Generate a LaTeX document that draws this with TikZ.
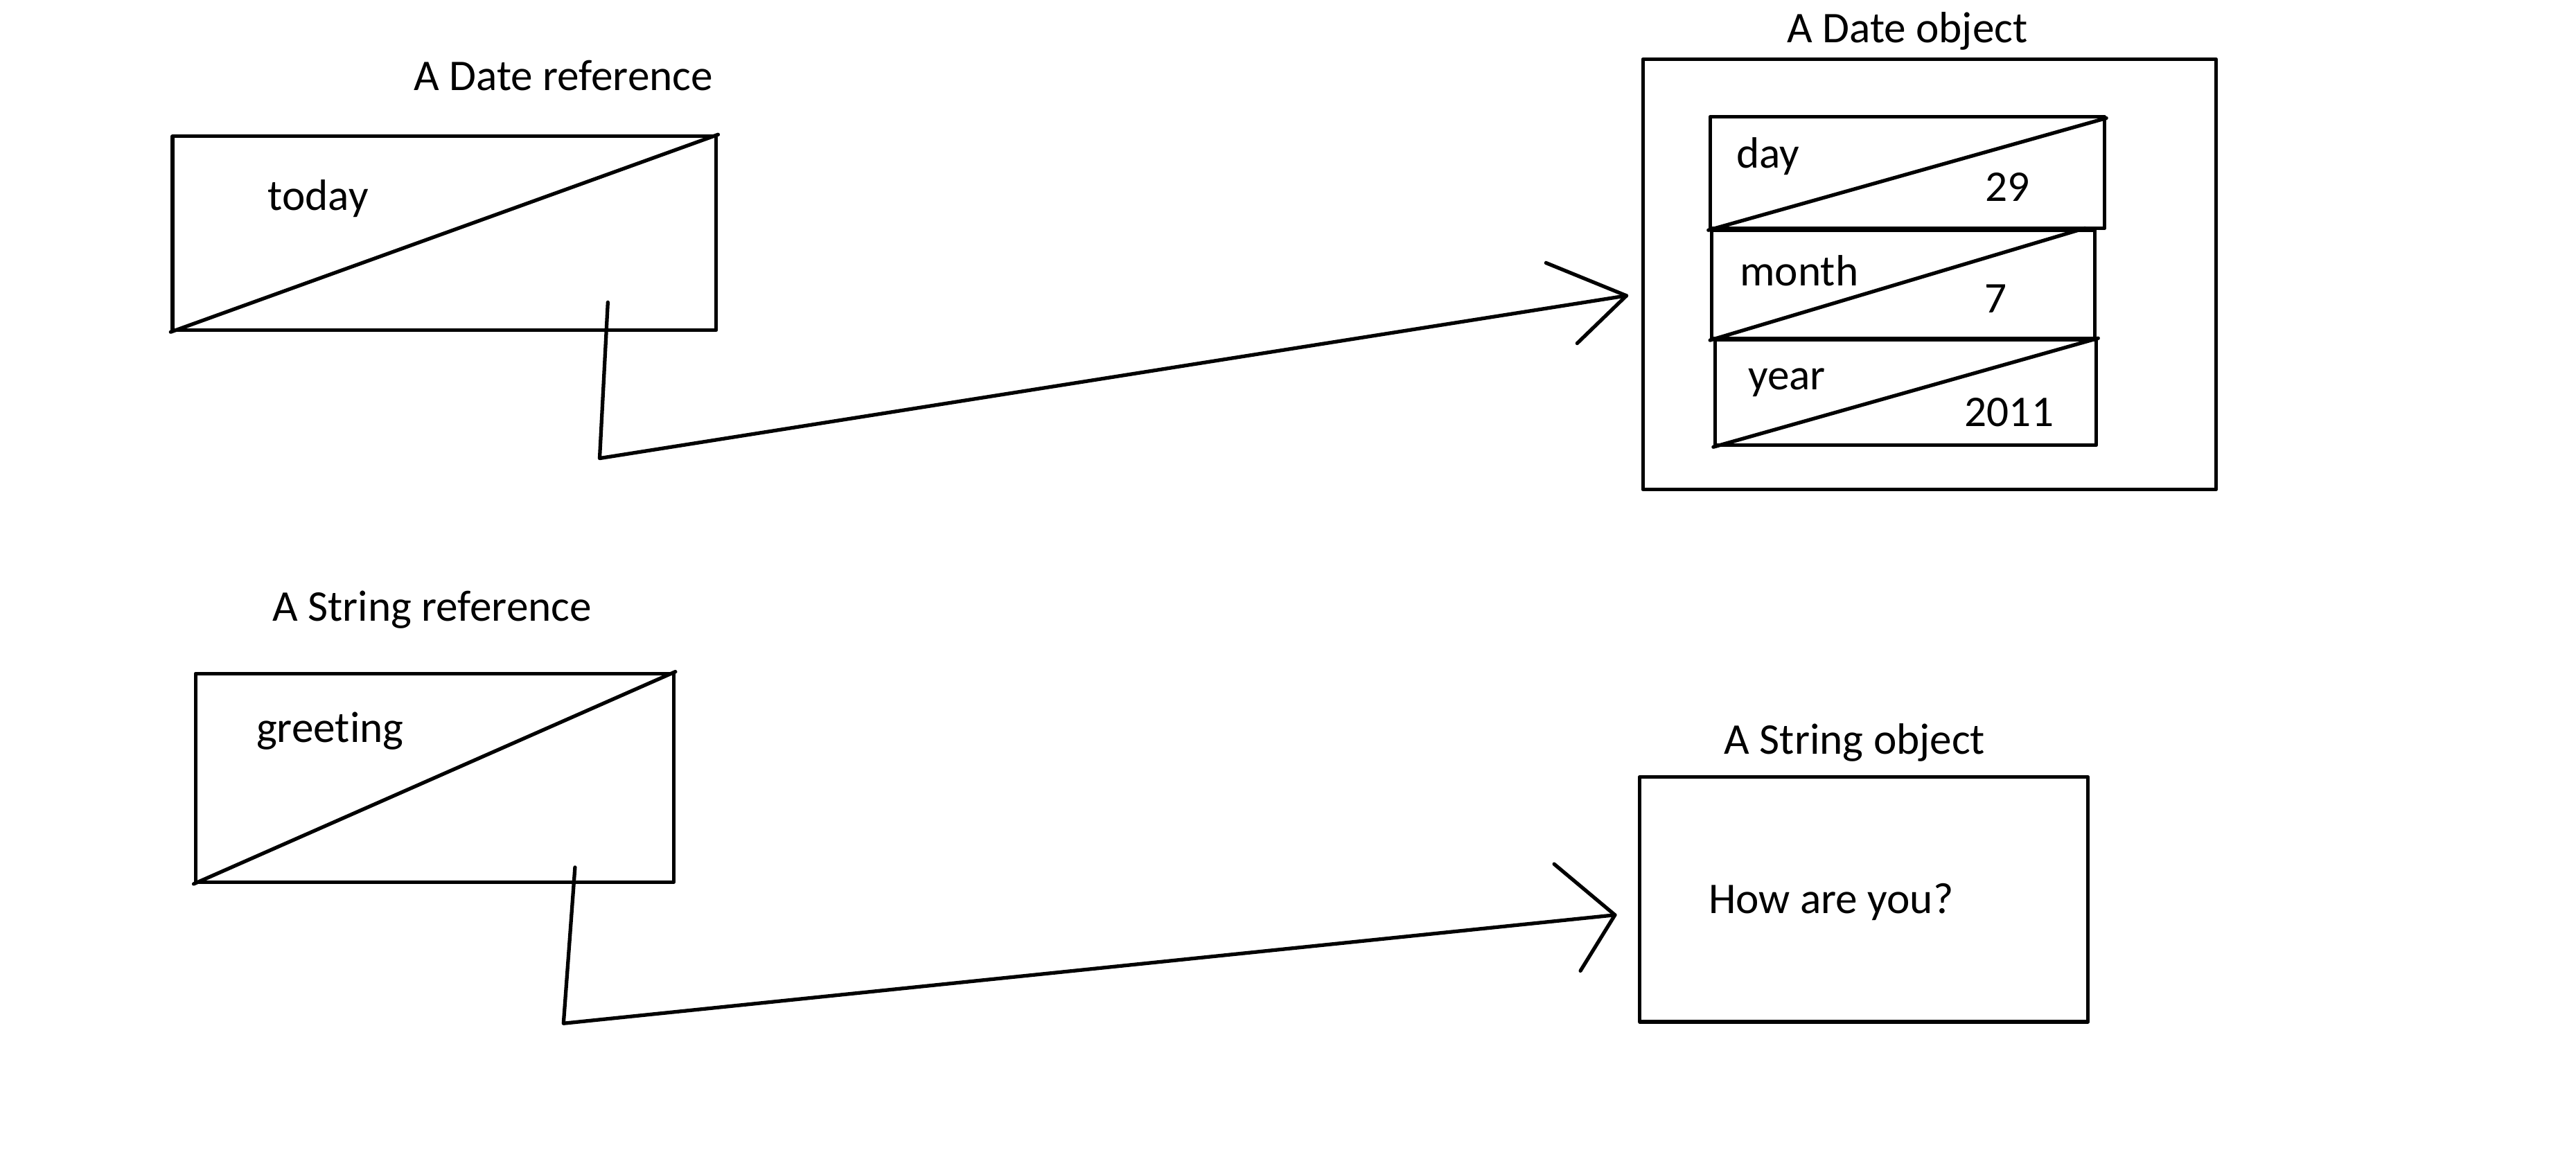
\documentclass[tikz,border=0pt]{standalone}
\usepackage{fontspec}
\setmainfont{Carlito}[Ligatures=NoCommon]
\usetikzlibrary{fit,calc}
\begin{document}
\begin{tikzpicture}[x=0.02371cm,y=-0.02371cm,line width=1.5pt,line cap=round,line join=round,
  txt/.style={font=\fontsize{18}{21}\selectfont,inner sep=0pt},
  boxst/.style={draw,inner sep=0pt}]
\useasboundingbox (0,0) rectangle (1568,711);
% ---- Date reference
\node[txt] (dreft) at (343,46) {A Date reference};
\coordinate (tdA) at (105,83); \coordinate (tdB) at (436,201);
\node[boxst,fit=(tdA)(tdB)] (today) {};
\draw (today.south west) -- (today.north east);
\node[txt,anchor=west] (todayl) at (162,121) {today};
% ---- Date object
\node[txt] (dobjt) at (1161,19) {A Date object};
\coordinate (doA) at (1000,36); \coordinate (doB) at (1349,298);
\node[boxst,fit=(doA)(doB)] (dobj) {};
\coordinate (dyA) at (1041,71); \coordinate (dyB) at (1281,139);
\node[boxst,fit=(dyA)(dyB)] (day) {};
\coordinate (mA) at (1042,140); \coordinate (mB) at (1275,206);
\node[boxst,fit=(mA)(mB)] (month) {};
\coordinate (yA) at (1044,207); \coordinate (yB) at (1276,271);
\node[boxst,fit=(yA)(yB)] (year) {};
\draw (day.south west) -- ($(day.north east)+(0,2)$);
\draw (month.south west) -- ($(month.north east)+(-7,0)$);
\draw (year.south west) -- (year.north east);
\node[txt,anchor=west] (dayl) at (1056,95) {day};
\node[txt] (dayv) at (1222,114) {29};
\node[txt,anchor=west] (monthl) at (1058,165) {month};
\node[txt] (monthv) at (1215,182) {7};
\node[txt,anchor=west] (yearl) at (1063,233) {year};
\node[txt] (yearv) at (1223,251) {2011};
% ---- pointer 1
\coordinate (p1s) at (370,184); \coordinate (p1c) at (365,279);
\coordinate (t1) at (990,180);
\coordinate (a1) at (941,160); \coordinate (b1) at (960,209);
\draw (p1s) -- (p1c) -- (t1);
\draw (a1) -- (t1) -- (b1);
% ---- String reference
\node[txt] (sreft) at (263,371) {A String reference};
\coordinate (gA) at (119,410); \coordinate (gB) at (410,537);
\node[boxst,fit=(gA)(gB)] (greet) {};
\draw (greet.south west) -- (greet.north east);
\node[txt,anchor=west] (greetl) at (155,445) {greeting};
% ---- String object
\node[txt] (sobjt) at (1129,452) {A String object};
\coordinate (sA) at (998,473); \coordinate (sB) at (1271,622);
\node[boxst,fit=(sA)(sB)] (sobj) {};
\node[txt,anchor=west] (sval) at (1039,549) {How are you?};
% ---- pointer 2
\coordinate (p2s) at (350,528); \coordinate (p2c) at (343,623);
\coordinate (t2) at (983,557);
\coordinate (a2) at (946,526); \coordinate (b2) at (962,591);
\draw (p2s) -- (p2c) -- (t2);
\draw (a2) -- (t2) -- (b2);
\end{tikzpicture}
\end{document}
